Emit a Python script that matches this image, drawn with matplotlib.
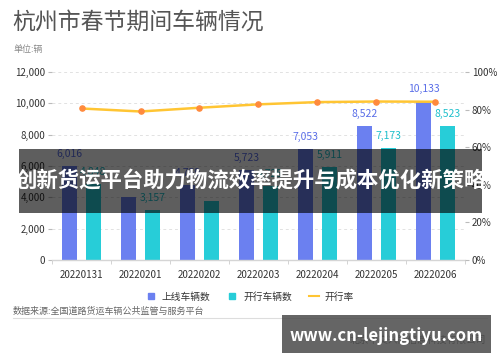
import matplotlib
matplotlib.use("Agg")
import matplotlib.pyplot as plt
from matplotlib.patches import Rectangle
from matplotlib.lines import Line2D
import numpy as np

plt.rcParams['font.family'] = ['Noto Sans CJK SC', 'DejaVu Sans']

categories = ["20220131", "20220201", "20220202", "20220203", "20220204", "20220205", "20220206"]
online = [6016, 3990, 4759, 5723, 7053, 8522, 10133]
running = [4848, 3157, 3780, 4725, 5911, 7173, 8523]
rate = [80.6, 79.0, 81.0, 82.8, 84.0, 84.3, 84.2]
online_labels = ["6,016", "", "4,759", "5,723", "7,053", "8,522", "10,133"]
running_labels = ["4,848", "3,157", "", "4,725", "5,911", "7,173", "8,523"]

blue = "#6B80F0"
cyan = "#27CDD8"
yellow = "#FFC533"
orange = "#FF8A3D"

fig = plt.figure(figsize=(5.0, 3.62), dpi=100)
ax = fig.add_axes([0.104, 0.282, 0.826, 0.519])
ax2 = ax.twinx()

x = np.arange(len(categories))
w = 0.26
off = 0.2
ax.bar(x - off, online, w, color=blue, zorder=2)
ax.bar(x + off, running, w, color=cyan, zorder=2)
for i in range(len(x)):
    if online_labels[i]:
        ax.text(x[i] - off, online[i] + 450, online_labels[i], ha='center', va='bottom',
                fontsize=7.5, color="#5A6EE8")
    if running_labels[i]:
        ax.text(x[i] + off, running[i] + 450, running_labels[i], ha='center', va='bottom',
                fontsize=7.5, color="#1FC0CC")

ax.set_xlim(-0.5, len(categories) - 0.5)
ax.set_ylim(0, 12000)
ax.set_yticks(range(0, 12001, 2000))
ax.set_yticklabels([f"{v:,}" for v in range(0, 12001, 2000)])
ax.set_xticks(x)
ax.set_xticklabels(categories)
ax.set_xticks(np.arange(-0.5, len(categories), 1), minor=True)
ax.tick_params(axis='x', which='major', length=0, pad=7, labelsize=7, labelcolor="#333333")
ax.tick_params(axis='x', which='minor', length=3, color="#cccccc")
ax.tick_params(axis='y', length=3, color="#bbbbbb", labelsize=7, labelcolor="#333333", pad=2)
ax.grid(axis='y', linestyle=(0, (3, 3)), color="#e2e2e2", linewidth=0.7, zorder=0)
for s in ['top', 'right', 'left']:
    ax.spines[s].set_visible(False)
ax.spines['bottom'].set_color("#d5d5d5")
ax.spines['bottom'].set_linewidth(1.0)

ax2.plot(x, rate, color=yellow, linewidth=1.8, zorder=3)
ax2.scatter(x, rate, color=orange, s=14, zorder=4)
ax2.set_ylim(0, 100)
ax2.set_yticks(range(0, 101, 20))
ax2.set_yticklabels([f"{v}%" for v in range(0, 101, 20)])
ax2.tick_params(axis='y', length=3, color="#bbbbbb", labelsize=7, labelcolor="#333333", pad=2)
for s in ['top', 'right', 'left', 'bottom']:
    ax2.spines[s].set_visible(False)

fig.text(0.024, 0.938, "杭州市春节期间车辆情况", fontsize=16.5, color="#555555", va='center')
fig.text(0.026, 0.862, "单位:辆", fontsize=6.5, color="#888888", va='center')

handles = [Line2D([], [], marker='s', linestyle='none', color=blue, markersize=4.5),
           Line2D([], [], marker='s', linestyle='none', color=cyan, markersize=4.5),
           Line2D([], [], color=yellow, linewidth=1.5)]
fig.legend(handles, ["上线车辆数", "开行车辆数", "开行率"], loc='center', ncol=3,
           bbox_to_anchor=(0.5, 0.18), frameon=False, fontsize=7, handlelength=1.0,
           handletextpad=0.6, columnspacing=1.8, labelcolor="#333333")

fig.text(0.026, 0.14, "数据来源:全国道路货运车辆公共监管与服务平台", fontsize=6.5, color="#666666", va='center')
fig.add_artist(Line2D([0.026, 0.974], [0.121, 0.121], color="#dddddd", linewidth=0.8))
fig.text(0.972, 0.06, "北京中交兴路信息科技有限公司", fontsize=7, color="#555555", va='center', ha='right')

# overlay band
fig.add_artist(Rectangle((0.038, 1 - 212.7 / 362), 0.926, 63.7 / 362, transform=fig.transFigure,
                         facecolor='black', alpha=0.63, edgecolor='none', zorder=10))
fig.text(0.501, 1 - 181 / 362, "创新货运平台助力物流效率提升与成本优化新策略", fontsize=15.4,
         color='white', fontweight='bold', ha='center', va='center', zorder=11)

# watermark box
fig.add_artist(Rectangle((0.564, 1 - 353 / 362), 0.418, 38 / 362, transform=fig.transFigure,
                         facecolor='#4a4a4a', alpha=0.85, edgecolor='none', zorder=10))
fig.text(0.772, 1 - 336 / 362, "www.cn-lejingtiyu.com", fontsize=12, color='white',
         fontweight='bold', ha='center', va='center', zorder=11)

fig.savefig("out.png", dpi=100)
